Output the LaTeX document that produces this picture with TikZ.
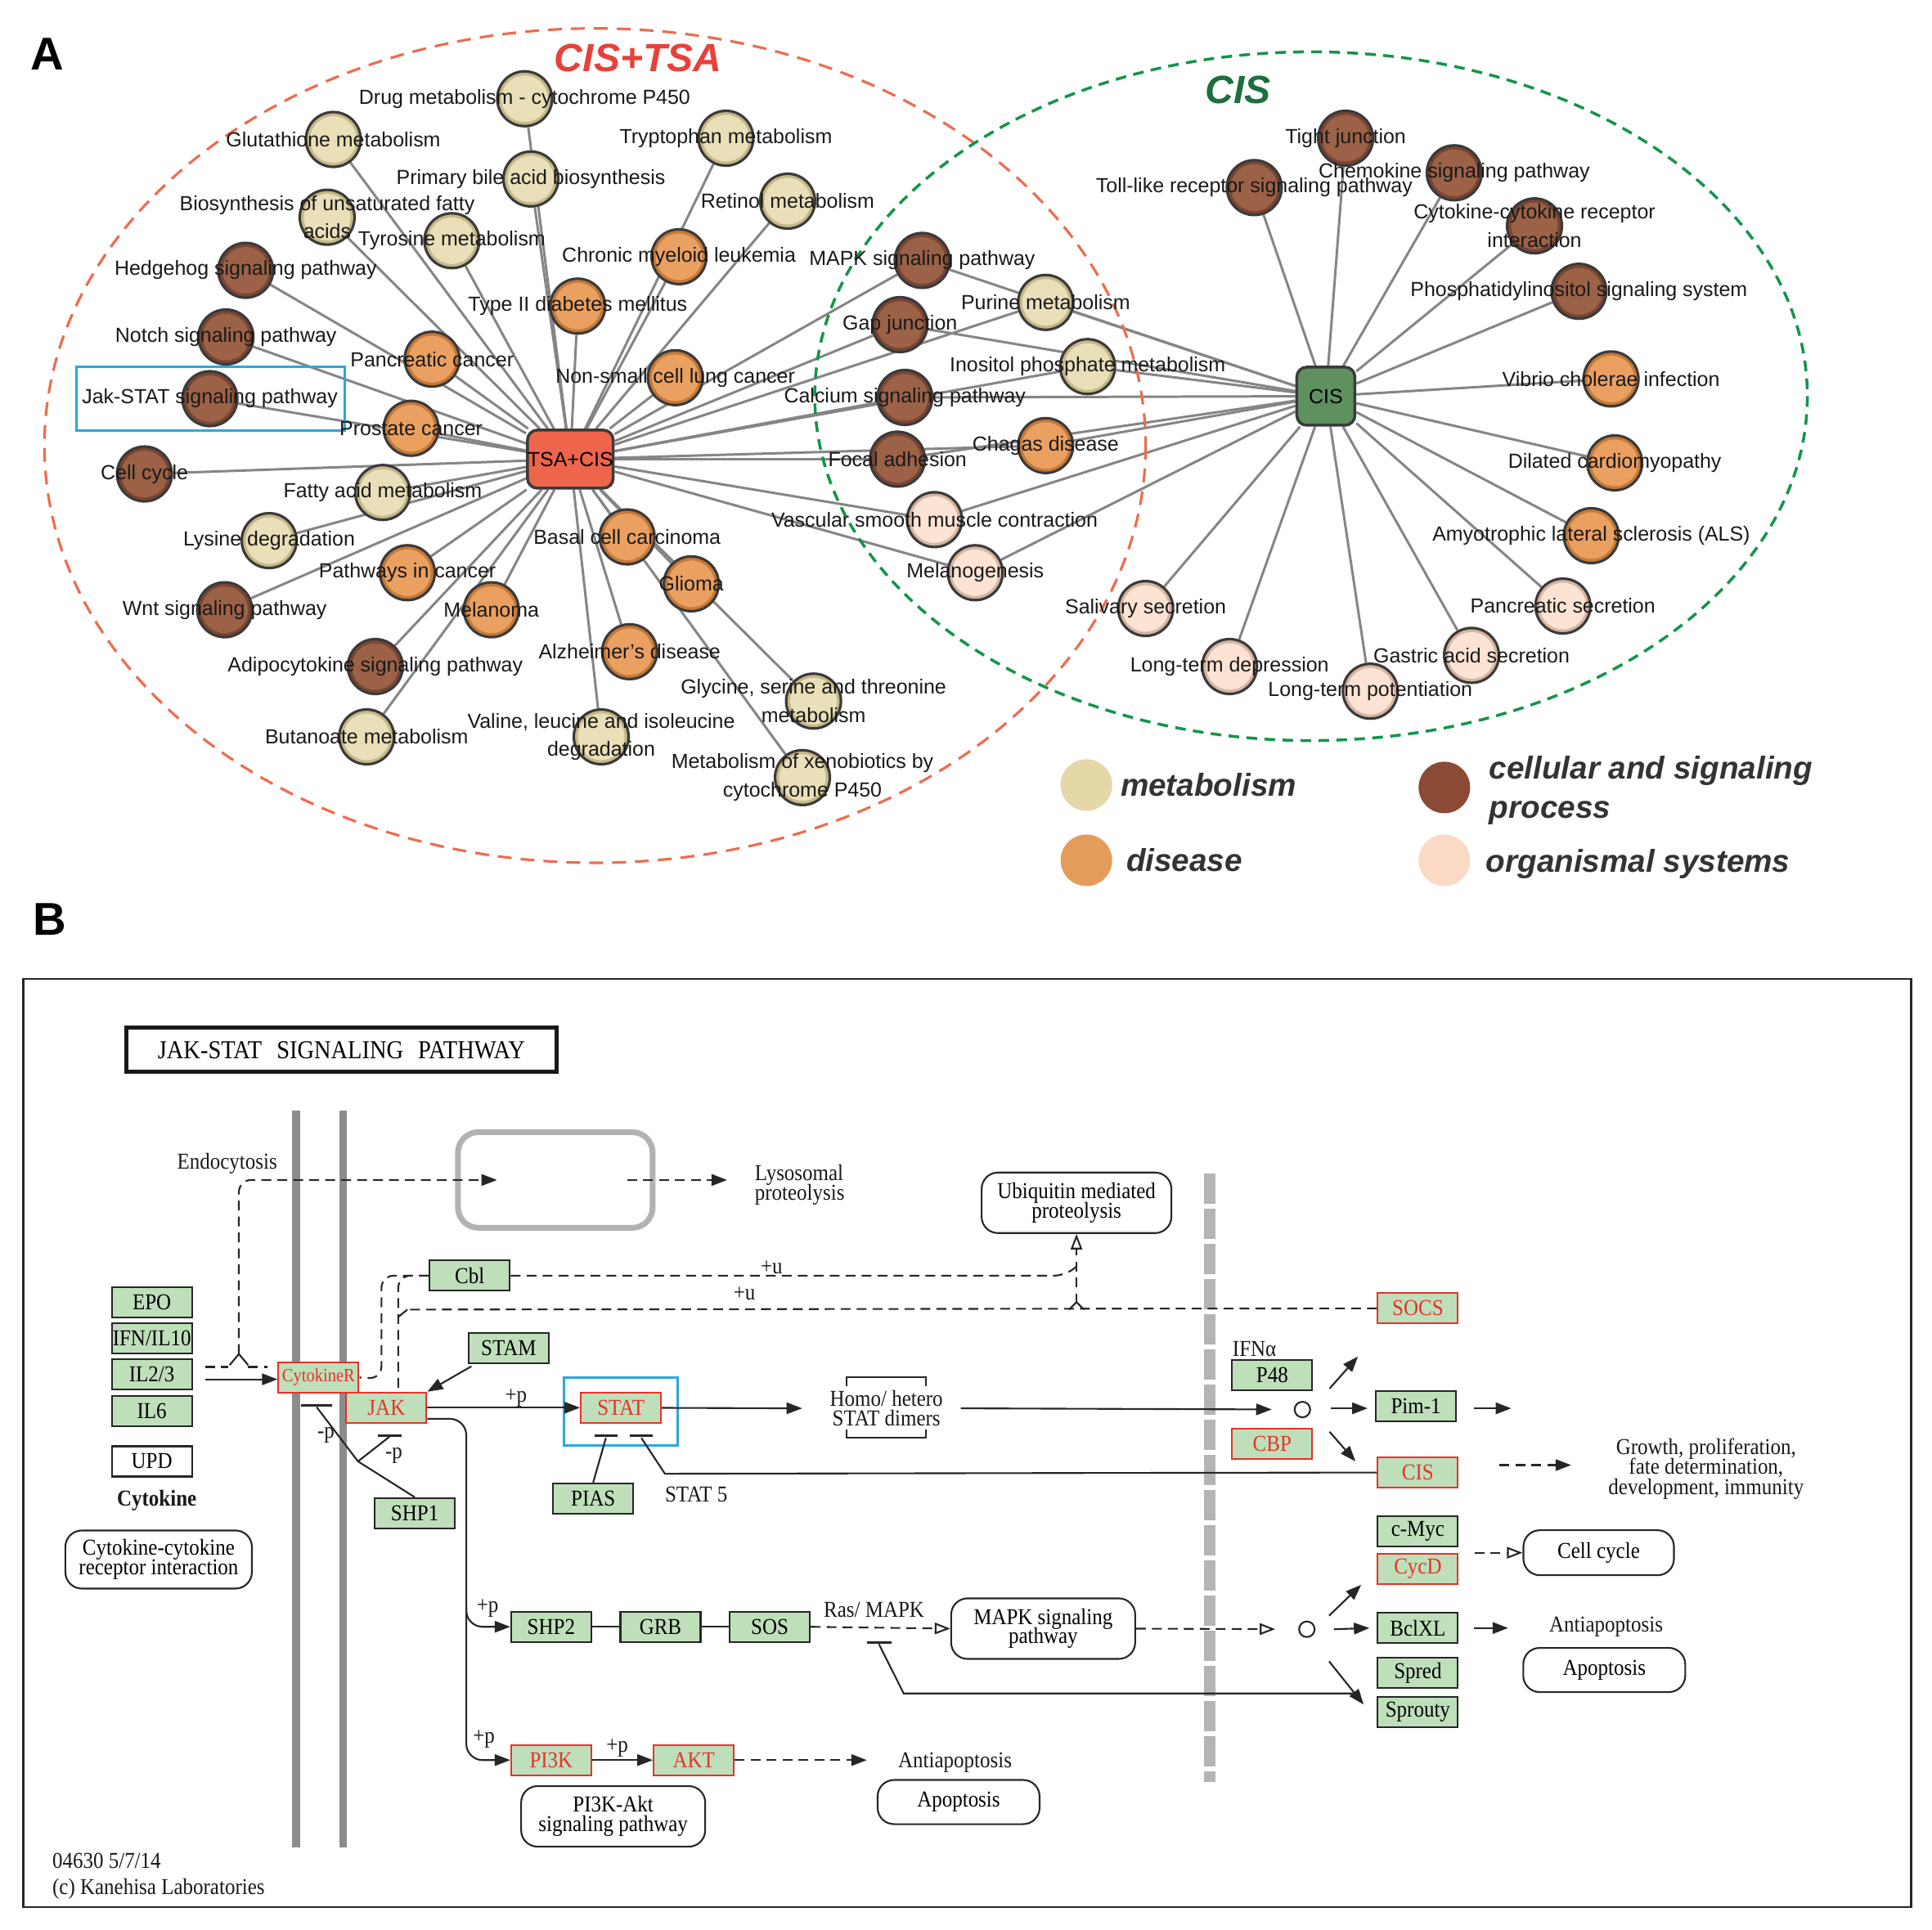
\documentclass[tikz,border=0pt]{standalone}
\usepackage{fontspec}
\setmainfont{Liberation Sans}
\newfontfamily\keggfont{Liberation Serif}[FakeStretch=0.9]
\usetikzlibrary{arrows.meta,backgrounds,calc,positioning}

\definecolor{metF}{HTML}{E9DFB8}
\definecolor{metR}{HTML}{C6B888}
\definecolor{disF}{HTML}{EAA060}
\definecolor{disR}{HTML}{C67A38}
\definecolor{celF}{HTML}{9C6247}
\definecolor{celR}{HTML}{7A4531}
\definecolor{orgF}{HTML}{FCE3D3}
\definecolor{orgR}{HTML}{D6B5A2}
\definecolor{ringD}{HTML}{3A3A3A}
\definecolor{hubRed}{HTML}{EE654B}
\definecolor{hubGreen}{HTML}{5F9160}
\definecolor{cisRed}{HTML}{E8413A}
\definecolor{cisGreen}{HTML}{1E6E3E}
\definecolor{ellRed}{HTML}{EE6C4E}
\definecolor{ellGreen}{HTML}{13954B}
\definecolor{edgeGray}{HTML}{858585}
\definecolor{selBlue}{HTML}{2AA7DF}
\definecolor{keggG}{HTML}{BEDFBA}
\definecolor{keggR}{HTML}{E8312A}
\definecolor{memGray}{HTML}{8C8C8C}
\definecolor{nucGray}{HTML}{B4B4B4}
\definecolor{legM}{HTML}{E4D7A8}
\definecolor{legD}{HTML}{E49C5A}
\definecolor{legC}{HTML}{8A4A34}
\definecolor{legO}{HTML}{FADAC5}
\definecolor{legText}{HTML}{333333}

\newcommand\netsz{\fontsize{7.1}{9.9}\selectfont}
\newcommand\keggsz{\keggfont\fontsize{7.9}{6.7}\selectfont\lineskiplimit=-5pt}
\newcommand\growsz{\keggfont\fontsize{7.9}{6.9}\selectfont\lineskiplimit=-5pt}

\tikzset{pnode/.style={circle, draw=ringD, line width=0.9pt, fill=#1R, minimum size=6.7mm, inner sep=0pt,
    path picture={\fill[#1F] (path picture bounding box.center) circle (2.85mm);}}}
\tikzstyle{lbl} = [font=\netsz, text=black!90, align=center, inner sep=0pt]
\tikzstyle{hub} = [rectangle, rounded corners=1.2mm, draw=ringD, line width=1pt, minimum size=7.1mm, inner sep=0pt, font=\netsz]
\tikzstyle{link} = [draw=edgeGray, line width=0.85pt]
\tikzstyle{legdot} = [circle, minimum size=6.3mm, inner sep=0pt]
\tikzstyle{legtxt} = [font=\bfseries\itshape\fontsize{11}{13.7}\selectfont, text=legText, align=left, inner sep=0pt]
\tikzstyle{gbox} = [rectangle, draw=black!85, fill=keggG, line width=0.6pt, minimum width=9.8mm, minimum height=3.7mm, inner sep=0pt, font=\keggsz]
\tikzstyle{rbox} = [gbox, draw=keggR, text=keggR]
\tikzstyle{pbox} = [rectangle, rounded corners=2mm, draw=black!85, line width=0.6pt, inner sep=0pt, align=center, font=\keggsz]
\tikzstyle{ktxt} = [inner sep=0pt, align=center, font=\keggsz, text=black!90]
\tikzstyle{kline} = [draw=black!85, line width=0.6pt]
\tikzstyle{arr} = [kline, -{Triangle[length=1.9mm,width=1.4mm]}]
\tikzstyle{oarr} = [kline, -{Triangle[open,length=1.9mm,width=1.4mm]}]
\tikzstyle{dsh} = [dash pattern=on 1.2mm off 0.75mm]
\tikzstyle{inh} = [draw=black!85, line width=0.9pt]

\def\netlist{%
drug/425/80/met/{Drug metabolism - cytochrome P450},
glut/270/113/met/{Glutathione metabolism},
bile/430/145/met/{Primary bile acid biosynthesis},
tryp/588/112/met/{Tryptophan metabolism},
retin/638/163/met/{Retinol metabolism},
fatty/265/176/met/{Biosynthesis of unsaturated fatty\\acids},
tyro/366/195/met/{Tyrosine metabolism},
hedge/199/219/cel/{Hedgehog signaling pathway},
cml/550/208/dis/{Chronic myeloid leukemia},
t2d/468/248/dis/{Type II diabetes mellitus},
notch/183/273/cel/{Notch signaling pathway},
panc/350/291/dis/{Pancreatic cancer},
nsclc/547/306/dis/{Non-small cell lung cancer},
jakstat/170/323/cel/{Jak-STAT signaling pathway},
prost/333/347/dis/{Prostate cancer},
ccyc/117/384/cel/{Cell cycle},
fam/310/399/met/{Fatty acid metabolism},
lys/218/438/met/{Lysine degradation},
bcc/508/435/dis/{Basal cell carcinoma},
glio/560/473/dis/{Glioma},
pinc/330/464/dis/{Pathways in cancer},
mel/398/494/dis/{Melanoma},
wnt/182/494/cel/{Wnt signaling pathway},
alz/510/528/dis/{Alzheimer's disease},
adipo/304/540/cel/{Adipocytokine signaling pathway},
gly/659/568/met/{Glycine, serine and threonine\\metabolism},
val/487/597/met/{Valine, leucine and isoleucine\\degradation},
buta/297/597/met/{Butanoate metabolism},
xeno/650/630/met/{Metabolism of xenobiotics by\\cytochrome P450},
mapk/747/211/cel/{MAPK signaling pathway},
pur/847/245/met/{Purine metabolism},
gap/729/263/cel/{Gap junction},
ino/881/297/met/{Inositol phosphate metabolism},
calc/733/322/cel/{Calcium signaling pathway},
focal/727/372/cel/{Focal adhesion},
chag/847/361/dis/{Chagas disease},
vsmc/757/421/org/{Vascular smooth muscle contraction},
melg/790/464/org/{Melanogenesis},
tight/1090/112/cel/{Tight junction},
chemo/1178/140/cel/{Chemokine signaling pathway},
toll/1016/152/cel/{Toll-like receptor signaling pathway},
ccri/1243/183/cel/{Cytokine-cytokine receptor\\interaction},
phos/1279/236/cel/{Phosphatidylinositol signaling system},
vib/1305/307/dis/{Vibrio cholerae infection},
dcm/1308/375/dis/{Dilated cardiomyopathy},
als/1289/434/dis/{Amyotrophic lateral sclerosis (ALS)},
psec/1266/491/org/{Pancreatic secretion},
gas/1192/531/org/{Gastric acid secretion},
ltp/1110/560/org/{Long-term potentiation},
ltd/996/540/org/{Long-term depression},
sal/928/493/org/{Salivary secretion}}

\begin{document}
\begin{tikzpicture}[x=0.15093mm, y=-0.15093mm]
\useasboundingbox (0,0) rectangle (1565,1563.6);
\begin{scope}[on background layer]
  \fill[white] (0,0) rectangle (1565,1563.6);
\end{scope}

% panel A
\node[font=\bfseries\fontsize{16}{16}\selectfont] (letA) at (38,44) {A};
\node[font=\bfseries\itshape\fontsize{13.7}{14}\selectfont, text=cisRed] (titA) at (517,47) {CIS+TSA};
\node[font=\bfseries\itshape\fontsize{13.7}{14}\selectfont, text=cisGreen] (titC) at (1003,73) {CIS};
\draw[ellRed, line width=0.9pt, dash pattern=on 1.7mm off 1.1mm] (482,361) ellipse [x radius=446, y radius=338];
\draw[ellGreen, line width=1pt, dash pattern=on 1.3mm off 0.9mm] (1062,321) ellipse [x radius=402, y radius=279];
\draw[selBlue, line width=0.9pt] (62,297) rectangle (279,349);

% nodes
\foreach \n/\x/\y/\kind/\txt in \netlist
  \node[pnode=\kind] (\n) at (\x,\y) {};
\node[hub, fill=hubRed] (hubA) at (462,372) {TSA+CIS};
\node[hub, fill=hubGreen] (hubC) at (1074,321) {CIS};
\foreach \n/\x/\y/\kind/\txt in \netlist
  \node[lbl] (\n-l) at (\n) {\txt};

% edges
\begin{scope}[on background layer]
  \foreach \n in {drug,glut,bile,tryp,retin,fatty,tyro,hedge,cml,t2d,notch,panc,nsclc,jakstat,prost,ccyc,fam,lys,bcc,glio,pinc,mel,wnt,alz,adipo,gly,val,buta,xeno,mapk,pur,gap,ino,calc,focal,chag,vsmc,melg}
    \draw[link] (hubA) -- (\n);
  \foreach \n in {mapk,pur,gap,ino,calc,focal,chag,vsmc,melg,tight,chemo,toll,ccri,phos,vib,dcm,als,psec,gas,ltp,ltd,sal}
    \draw[link] (hubC) -- (\n);
\end{scope}

% legend
\node[legdot, fill=legM] (lgM) at (880,636) {};
\node[legtxt, right=0.9mm of lgM] (lgMt) {metabolism};
\node[legdot, fill=legD] (lgD) at (880,697) {};
\node[legtxt, right=1.6mm of lgD] (lgDt) {disease};
\node[legdot, fill=legC] (lgC) at (1170,638) {};
\node[legtxt, right=2.2mm of lgC, yshift=-0.4mm] (lgCt) {cellular and signaling\\process};
\node[legdot, fill=legO] (lgO) at (1170,697) {};
\node[legtxt, right=1.8mm of lgO, yshift=-0.5mm] (lgOt) {organismal systems};

% panel B
\node[font=\bfseries\fontsize{16}{16}\selectfont] (letB) at (40,745) {B};
\draw[black!85, line width=0.75pt] (19,793) rectangle (1548,1545);
\node[draw=black!90, line width=1.4pt, minimum width=52.6mm, minimum height=5.4mm, inner sep=0pt,
  font=\keggfont\fontsize{9}{9}\selectfont] (title) at (276.6,850.7) {JAK-STAT\hspace{1.8mm}SIGNALING\hspace{1.8mm}PATHWAY};
\fill[memGray] (236.6,900) rectangle (243,1497);
\fill[memGray] (274.8,900) rectangle (281.2,1497);
\draw[nucGray, line width=1.43mm, dash pattern=on 3.7mm off 0.6mm] (980,951) -- (980,1444);

% nodes
\node[gbox] (epo) at (123,1055) {EPO};
\node[gbox] (ifn) at (123,1084) {IFN/IL10};
\node[gbox] (il23) at (123,1113.5) {IL2/3};
\node[gbox] (il6) at (123,1143.5) {IL6};
\node[gbox, fill=white] (upd) at (123,1184) {UPD};
\node[ktxt, font=\keggsz\bfseries] (cytok) at (127,1216) {Cytokine};
\node[pbox, minimum width=22.8mm, minimum height=7.1mm] (ccrbox) at (128.5,1263.5) {Cytokine-cytokine\\receptor interaction};
\node[ktxt] (endo) at (184,943) {Endocytosis};
\node[rectangle, rounded corners=2.5mm, draw=gray!60, line width=2pt, minimum width=23.8mm, minimum height=11.7mm] (gbox1) at (449.8,956) {};
\node[ktxt, align=left, anchor=west] (lyso) at (611,960) {Lysosomal\\proteolysis};
\node[pbox, minimum width=23.2mm, minimum height=7.4mm] (ubiq) at (872,974.5) {Ubiquitin mediated\\proteolysis};
\node[rbox, font=\keggfont\fontsize{6.5}{7}\selectfont] (cytR) at (258,1116) {CytokineR};
\node[rbox] (jak) at (313,1140.5) {JAK};
\node[gbox] (cbl) at (380.5,1033.5) {Cbl};
\node[gbox] (stam) at (412,1092) {STAM};
\node[rbox] (stat) at (503,1140.5) {STAT};
\draw[selBlue, line width=0.9pt] (457,1116) rectangle (549,1171);
\node[ktxt] (homo) at (718,1141) {Homo/ hetero\\STAT dimers};
\node[ktxt, anchor=west] (ifna) at (998,1093) {IFNα};
\node[gbox] (p48) at (1030.5,1114) {P48};
\node[rbox] (cbp) at (1030.5,1170) {CBP};
\node[circle, draw=black!85, line width=0.6pt, minimum size=1.9mm, inner sep=0pt] (c1) at (1055,1142) {};
\node[gbox] (pim1) at (1147,1139) {Pim-1};
\node[rbox] (socs) at (1148.5,1060) {SOCS};
\node[rbox] (cis) at (1148.5,1193) {CIS};
\node[ktxt, font=\growsz] (growth) at (1382,1190) {Growth, proliferation,\\fate determination,\\development, immunity};
\node[gbox] (cmyc) at (1148.5,1240.5) {c-Myc};
\node[rbox] (cycd) at (1148.5,1271) {CycD};
\node[gbox] (bclxl) at (1148.5,1319) {BclXL};
\node[gbox] (spred) at (1148.5,1355.5) {Spred};
\node[gbox] (sprouty) at (1148.5,1387) {Sprouty};
\node[pbox, minimum width=18.4mm, minimum height=5.5mm] (ccyc2) at (1295,1258) {Cell cycle};
\node[ktxt] (anti2) at (1301,1318) {Antiapoptosis};
\node[pbox, minimum width=19.8mm, minimum height=5.4mm] (apo2) at (1299.5,1353) {Apoptosis};
\node[circle, draw=black!85, line width=0.6pt, minimum size=1.9mm, inner sep=0pt] (c2) at (1058.6,1320) {};
\node[pbox, minimum width=22.5mm, minimum height=7.4mm] (mapkB) at (845,1319.5) {MAPK signaling\\pathway};
\node[ktxt] (ras) at (708,1304) {Ras/ MAPK};
\node[gbox] (pias) at (480.5,1214) {PIAS};
\node[ktxt] (stat5) at (564,1211) {STAT 5};
\node[gbox] (shp1) at (336,1226) {SHP1};
\node[gbox] (shp2) at (446.5,1318) {SHP2};
\node[gbox] (grb) at (535,1318) {GRB};
\node[gbox] (sos) at (623.5,1318) {SOS};
\node[rbox] (pi3k) at (446.5,1426) {PI3K};
\node[rbox] (akt) at (562,1426) {AKT};
\node[pbox, minimum width=22.5mm, minimum height=7.4mm] (pakt) at (496.7,1471.6) {PI3K-Akt\\signaling pathway};
\node[ktxt] (anti1) at (773.6,1428) {Antiapoptosis};
\node[pbox, minimum width=19.8mm, minimum height=5.4mm] (apo1) at (776.5,1460) {Apoptosis};
\node[ktxt, align=left, anchor=west, font=\keggfont\fontsize{7.9}{9}\selectfont] (copy) at (42,1520) {04630 5/7/14\\(c) Kanehisa Laboratories};
\node[ktxt] (pJS) at (418,1133) {+p};
\node[ktxt] (pSH) at (395,1303) {+p};
\node[ktxt] (pPI) at (392,1409) {+p};
\node[ktxt] (pAK) at (500,1416) {+p};
\node[ktxt] (mR) at (264,1163) {-p};
\node[ktxt] (mJ) at (319,1179) {-p};
\node[ktxt] (uA) at (625,1027) {+u};
\node[ktxt] (uB) at (603,1048) {+u};

% edges
\draw[arr] ($(il23.east)+(10,4)$) -- ($(cytR.west)+(0,1.5)$);
\draw[kline, dsh] ($(il23.east)+(10,-6)$) -- ++(19,0);
\draw[kline] (186,1106) -- (193.5,1097) -- (201,1106);
\draw[kline, dsh] (201,1107.5) -- ($(cytR.west)+(-8,-8.5)$);
\draw[arr, dsh, rounded corners=1.5mm] (193.5,1097) -- (193.5,956) -- ($(gbox1.west)+(34,0)$);
\draw[arr, dsh] ($(gbox1.east)+(-23,0)$) -- ($(lyso.west)+(-22,-4)$);
\draw[kline, dsh, rounded corners=1.5mm] (cbl.west) -- (309,1033.5) -- (309,1117) -- (cytR.east);
\draw[kline, dsh, rounded corners=1.5mm] (cbl.west) -- (322.6,1033.5) -- ($(jak.north)+(9.6,0)$);
\draw[kline, dsh] (socs.west) -- (330,1061);
\draw[kline] (330,1061) -- (322.6,1067);
\draw[kline, dsh, rounded corners=1.5mm] (cbl.east) -- (864,1033.5) -- (872,1026);
\draw[oarr, dsh] (872,1056) -- (ubiq.south);
\draw[kline] (866,1061) -- (872,1055) -- (878,1061);
\draw[arr] ($(stam.south west)+(3,2)$) -- (jak.north east);
\draw[arr] (jak) -- (stat);
\draw[arr] (stat) -- ($(homo.west)+(-22,0)$);
\draw[kline] (686,1123) -- (686,1116) -- (750,1116) -- (750,1123);
\draw[kline] (686,1158) -- (686,1165) -- (750,1165) -- (750,1158);
\draw[arr, shorten >=2.7mm] ($(homo.east)+(14,0)$) -- (c1);
\draw[arr] ($(c1)+(22,-17)$) -- ($(c1)+(45,-43)$);
\draw[arr] ($(c1)+(23,-1)$) -- ($(pim1.west)+(-6,2)$);
\draw[arr] ($(c1)+(22,18)$) -- ($(c1)+(43,42)$);
\draw[arr] ($(pim1.east)+(14,2)$) -- ++(30,0);
\draw[arr, dsh] ($(cis.east)+(33,-6)$) -- ++(58,0);
\draw[kline] (cis.west) -- (538.6,1194) -- (519.5,1165);
\draw[inh] (510,1163) -- (529,1163);
\draw[kline] (pias.north) -- (490.8,1165);
\draw[inh] (481.5,1163) -- (500,1163);
\draw[inh] (244,1138.5) -- (269,1138.5);
\draw[inh] (306,1163) -- (325,1163);
\draw[kline] (256.5,1140) -- (290,1184) -- (shp1.north);
\draw[kline] (315.5,1164) -- (290,1184);
\draw[arr, rounded corners=2mm] ($(jak.east)+(0,9)$) -- (377.7,1149.5) -- (377.7,1318) -- (shp2.west);
\draw[arr, rounded corners=2mm] (377.7,1300) -- (377.7,1426) -- (pi3k.west);
\draw[kline] (shp2) -- (grb) -- (sos);
\draw[arr] (pi3k) -- (akt);
\draw[arr, dsh] (akt.east) -- ($(akt.east)+(107,0)$);
\draw[oarr, dsh] (sos.east) -- (mapkB.west);
\draw[inh] (702,1331) -- (722,1331);
\draw[kline] (712,1332) -- (732,1372) -- (1102,1372);
\draw[oarr, dsh, shorten >=2.8mm] (mapkB.east) -- (c2);
\draw[arr] ($(c2)+(18,-11)$) -- ($(c2)+(44,-36)$);
\draw[arr] ($(c2)+(22,0)$) -- ($(bclxl.west)+(-6,0)$);
\draw[arr] ($(c2)+(18,26)$) -- ($(c2)+(46,61)$);
\draw[oarr, dsh] ($(ccyc2.west)+(-39,0)$) -- (ccyc2.west);
\draw[arr] ($(bclxl.east)+(12,0)$) -- ++(28,0);
\end{tikzpicture}
\end{document}
